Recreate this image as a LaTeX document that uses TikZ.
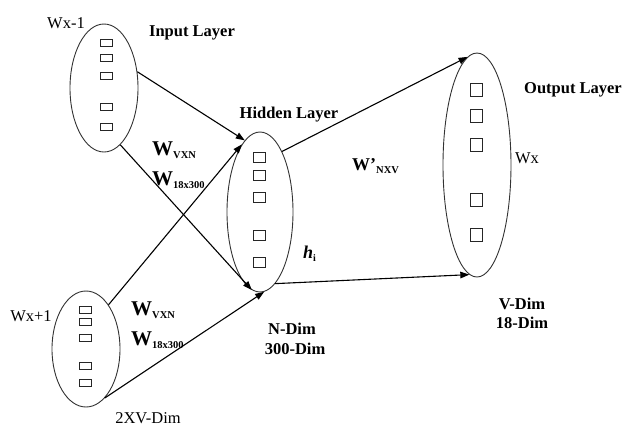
\documentclass[tikz,border=0pt]{standalone}
\usepackage{fontspec}
\setmainfont{Liberation Serif}
\usetikzlibrary{shapes.geometric,arrows.meta}
\begin{document}
\begin{tikzpicture}[x=1pt,y=-1pt,
  layer/.style={ellipse,draw=black!80,line width=0.9pt,inner sep=0pt},
  inunit/.style={draw=black!85,line width=0.8pt,inner sep=0pt,minimum width=12pt,minimum height=7pt},
  hidunit/.style={draw=black!85,line width=0.8pt,inner sep=0pt,minimum width=12pt,minimum height=10pt},
  outunit/.style={draw=black!85,line width=0.8pt,inner sep=0pt,minimum width=12pt,minimum height=13pt},
  arr/.style={line width=1.1pt,-{Triangle[length=9pt,width=6.5pt]}},
  lbl/.style={inner sep=0pt,font=\fontsize{16.5}{19}\selectfont},
  bl/.style={inner sep=0pt,font=\fontsize{16.5}{19.5}\selectfont\bfseries},
  wl/.style={inner sep=0pt,anchor=base west,font=\fontsize{21}{24}\selectfont\bfseries}
]
\useasboundingbox (0,0) rectangle (627,432);
\fill[white] (0,0) rectangle (627,432);

% layers
\node[layer,minimum width=68pt,minimum height=128pt] (in1) at (104,88) {};
\node[layer,minimum width=68pt,minimum height=116pt] (in2) at (86,349) {};
\node[layer,minimum width=66pt,minimum height=160pt] (hid) at (260,212) {};
\node[layer,minimum width=68pt,minimum height=224pt] (out) at (477,165) {};

% units
\foreach \y [count=\i] in {43,58,76,107,127} \node[inunit] (a\i) at (106,\y) {};
\foreach \y [count=\i] in {310,322,338,366,383} \node[inunit] (b\i) at (85,\y) {};
\foreach \y [count=\i] in {157,175,197,235,262} \node[hidunit] (c\i) at (259.5,\y) {};
\foreach \y [count=\i] in {90,116,145,200,235} \node[outunit] (d\i) at (476,\y) {};

% connectors
\draw[arr] (in1.26) -- (hid.102);
\draw[arr] (in2.63) -- (hid.105);
\draw[arr] (in1.-74) -- (hid.-96);
\draw[arr] (in2.-69) -- (hid.-87);
\draw[arr] (hid.70) -- (out.95);
\draw[arr] (hid.-78) -- (out.-94);

% labels
\node[lbl] (tin1) at (66,23) {Wx-1};
\node[bl] (tinl) at (192,33) {Input Layer};
\node[bl] (thl) at (289,115) {Hidden Layer};
\node[bl] (tol) at (573,90) {Output Layer};
\node[lbl] (twx) at (527,158) {Wx};
\node[bl] (tv1) at (522,304) {V-Dim};
\node[bl] (tv2) at (522,323) {18-Dim};
\node[bl] (tn1) at (292,329) {N-Dim};
\node[bl] (tn2) at (295,349) {300-Dim};
\node[lbl] (t2xv) at (148,418) {2XV-Dim};
\node[lbl] (tin2) at (31,316) {Wx+1};

\node[wl] (w1) at (152,155) {W\raisebox{-3pt}{\fontsize{10.5}{12}\selectfont VXN}};
\node[wl] (w2) at (152,185) {W\raisebox{-3pt}{\fontsize{10.5}{12}\selectfont 18x300}};
\node[wl] (w3) at (131,315) {W\raisebox{-3pt}{\fontsize{10.5}{12}\selectfont VXN}};
\node[wl] (w4) at (131,345) {W\raisebox{-3pt}{\fontsize{10.5}{12}\selectfont 18x300}};
\node[inner sep=0pt,anchor=base west,font=\fontsize{18}{21}\selectfont\bfseries] (w5) at (352,170) {W'\raisebox{-3pt}{\fontsize{10.5}{12}\selectfont NXV}};
\node[inner sep=0pt,anchor=base west,font=\fontsize{18}{21}\selectfont\bfseries\itshape] (hi) at (303,258) {h\raisebox{-3pt}{\fontsize{10}{12}\selectfont\upshape i}};
\end{tikzpicture}
\end{document}
